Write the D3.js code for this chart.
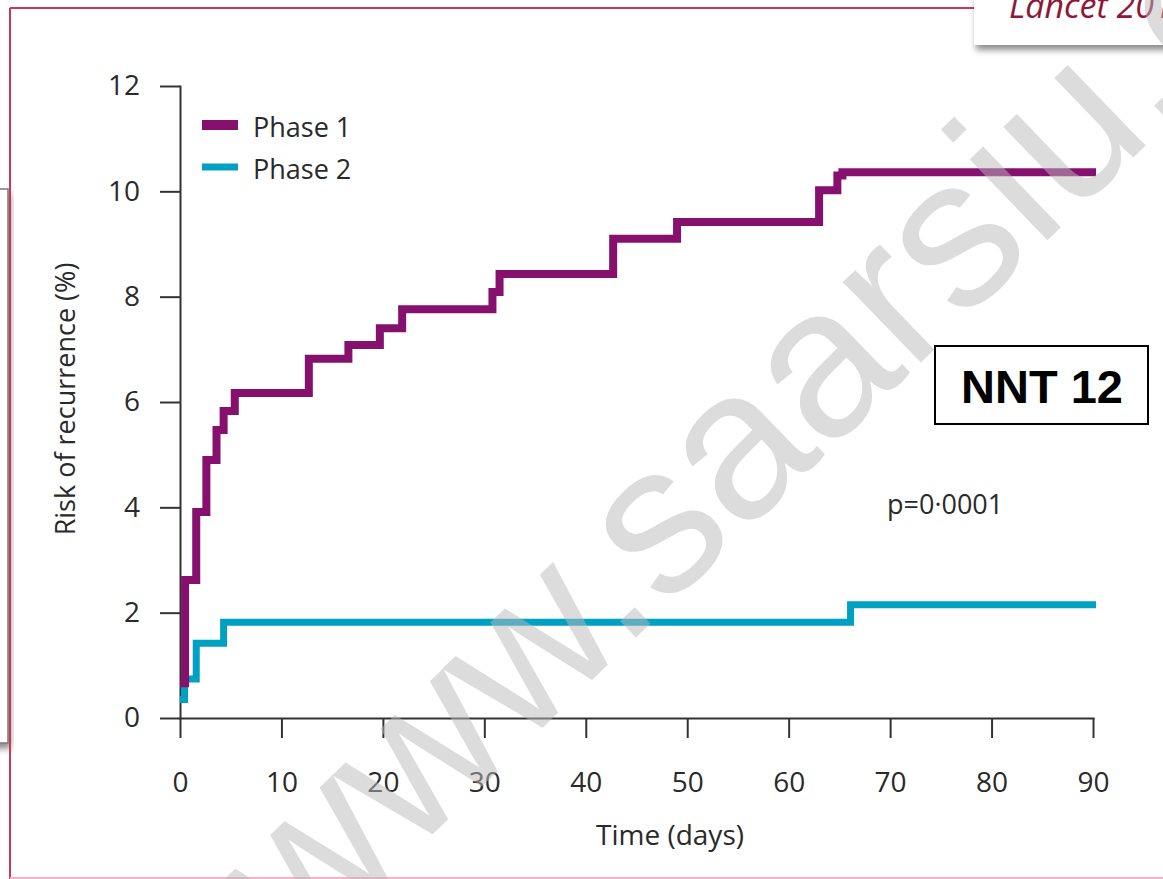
<!DOCTYPE html>
<html lang="en">
<head>
    <meta charset="UTF-8">
    <title>Risk of recurrence</title>
    <script src="https://cdnjs.cloudflare.com/ajax/libs/d3/7.8.5/d3.min.js"></script>
    <style>
        html, body { margin: 0; padding: 0; background: #fff; }
        svg { display: block; }
        .axis text { font-family: "Open Sans", sans-serif; font-size: 28px; fill: #2a2a2a; }
        .axis path, .axis line { stroke: #333; stroke-width: 2px; }
    </style>
</head>
<body>
    <svg id="chart" width="1163" height="879"></svg>
    <script>
        // curve data: day where each step starts, and the risk (%) from then on
        const phase1Days = [0, 0.5, 1.6, 2.6, 3.6, 4.3, 5.4, 12.7, 16.6, 19.7, 21.9, 30.8, 31.5, 42.7, 49.0, 63.0, 64.8, 65.3, 90.3];
        const phase1Risk = [0.66, 2.62, 3.91, 4.9, 5.47, 5.83, 6.17, 6.82, 7.08, 7.4, 7.76, 8.09, 8.43, 9.1, 9.42, 10.02, 10.3, 10.36, 10.36];
        const phase2Days = [0, 0.45, 1.6, 4.3, 66.1, 90.3];
        const phase2Risk = [0.35, 0.74, 1.42, 1.82, 2.15, 2.15];

        const xTicks = [0, 10, 20, 30, 40, 50, 60, 70, 80, 90];
        const yTicks = [0, 2, 4, 6, 8, 10, 12];
        const seriesNames = ['Phase 1', 'Phase 2'];
        const seriesColors = ['#86106e', '#00a0c2'];

        const svg = d3.select('#chart');

        const defs = svg.append('defs');
        defs.append('filter')
            .attr('id', 'shadow')
            .attr('x', '-20%').attr('y', '-50%')
            .attr('width', '140%').attr('height', '220%')
            .append('feDropShadow')
            .attr('dx', 2).attr('dy', 5)
            .attr('stdDeviation', 3)
            .attr('flood-color', '#000')
            .attr('flood-opacity', 0.45);

        // slide bits around the figure
        svg.append('rect')
            .attr('x', -20).attr('y', 189)
            .attr('width', 28).attr('height', 554)
            .attr('fill', '#fff')
            .attr('stroke', '#777').attr('stroke-width', 1.5)
            .attr('filter', 'url(#shadow)');
        svg.append('line')
            .attr('x1', 10).attr('y1', 8).attr('x2', 10).attr('y2', 879)
            .attr('stroke', '#c8385c').attr('stroke-width', 2);
        svg.append('line')
            .attr('x1', 10).attr('y1', 8).attr('x2', 980).attr('y2', 8)
            .attr('stroke', '#c8385c').attr('stroke-width', 2);
        svg.append('line')
            .attr('x1', 10).attr('y1', 878).attr('x2', 1163).attr('y2', 878)
            .attr('stroke', '#f3b4c8').attr('stroke-width', 2);

        svg.append('rect')
            .attr('x', 974).attr('y', -10)
            .attr('width', 200).attr('height', 55)
            .attr('fill', '#fff')
            .attr('filter', 'url(#shadow)');
        svg.append('text')
            .attr('x', 1009).attr('y', 18)
            .attr('font-family', '"Open Sans", sans-serif')
            .attr('font-style', 'italic')
            .attr('font-size', 34)
            .attr('fill', '#8e1838')
            .text('Lancet 2014');

        // scales
        const x = d3.scaleLinear().domain([0, 90]).range([180, 1093]);
        const y = d3.scaleLinear().domain([0, 12]).range([718, 86]);

        svg.append('g')
            .attr('class', 'axis')
            .attr('transform', 'translate(0,718)')
            .call(d3.axisBottom(x).tickValues(xTicks).tickSize(20).tickSizeOuter(0).tickPadding(34));

        svg.append('g')
            .attr('class', 'axis')
            .attr('transform', 'translate(180,0)')
            .call(d3.axisLeft(y).tickValues(yTicks).tickSize(20).tickSizeOuter(0).tickPadding(20));

        svg.selectAll('.axis .domain').attr('stroke-linecap', 'square');

        svg.append('text')
            .attr('x', 670).attr('y', 845)
            .attr('text-anchor', 'middle')
            .attr('font-family', '"Open Sans", sans-serif')
            .attr('font-size', 28)
            .attr('fill', '#2a2a2a')
            .text('Time (days)');

        svg.append('text')
            .attr('transform', 'translate(75,399) rotate(-90)')
            .attr('text-anchor', 'middle')
            .attr('font-family', '"Open Sans", sans-serif')
            .attr('font-size', 27)
            .attr('fill', '#2a2a2a')
            .text('Risk of recurrence (%)');

        // step curves
        const line = d3.line()
            .x(d => x(d[0]))
            .y(d => y(d[1]))
            .curve(d3.curveStepAfter);

        const phase2 = phase2Days.map((d, i) => [d, phase2Risk[i]]);
        const phase1 = phase1Days.map((d, i) => [d, phase1Risk[i]]);

        svg.append('path')
            .datum(phase2)
            .attr('d', line)
            .attr('fill', 'none')
            .attr('stroke', seriesColors[1])
            .attr('stroke-width', 7);

        svg.append('path')
            .datum(phase1)
            .attr('d', line)
            .attr('fill', 'none')
            .attr('stroke', seriesColors[0])
            .attr('stroke-width', 8);

        // legend
        const legend = svg.append('g').attr('transform', 'translate(202,125)');
        seriesNames.forEach((name, i) => {
            legend.append('line')
                .attr('x1', 0).attr('x2', 36)
                .attr('y1', i * 42).attr('y2', i * 42)
                .attr('stroke', seriesColors[i])
                .attr('stroke-width', i === 0 ? 10 : 7);
            legend.append('text')
                .attr('x', 51).attr('y', i * 42 + 12)
                .attr('font-family', '"Open Sans", sans-serif')
                .attr('font-size', 27)
                .attr('fill', '#2a2a2a')
                .text(name);
        });

        // annotations
        svg.append('text')
            .attr('x', 887).attr('y', 514)
            .attr('font-family', '"Open Sans", sans-serif')
            .attr('font-size', 27)
            .attr('fill', '#2a2a2a')
            .text('p=0\u00b70001');

        svg.append('rect')
            .attr('x', 935).attr('y', 346)
            .attr('width', 213).attr('height', 78)
            .attr('fill', '#fff')
            .attr('stroke', '#000').attr('stroke-width', 2);
        svg.append('text')
            .attr('x', 1042).attr('y', 403)
            .attr('text-anchor', 'middle')
            .attr('font-family', '"Liberation Sans", Arial, sans-serif')
            .attr('font-weight', 'bold')
            .attr('font-size', 47)
            .attr('fill', '#000')
            .text('NNT 12');

        // watermark over everything
        svg.append('text')
            .attr('transform', 'translate(300,962) rotate(-44)')
            .attr('font-family', '"Liberation Sans", Arial, sans-serif')
            .attr('font-size', 212)
            .attr('fill', '#b9b9b9')
            .attr('fill-opacity', 0.5)
            .text('www.saarsiu.com');
    </script>
</body>
</html>
